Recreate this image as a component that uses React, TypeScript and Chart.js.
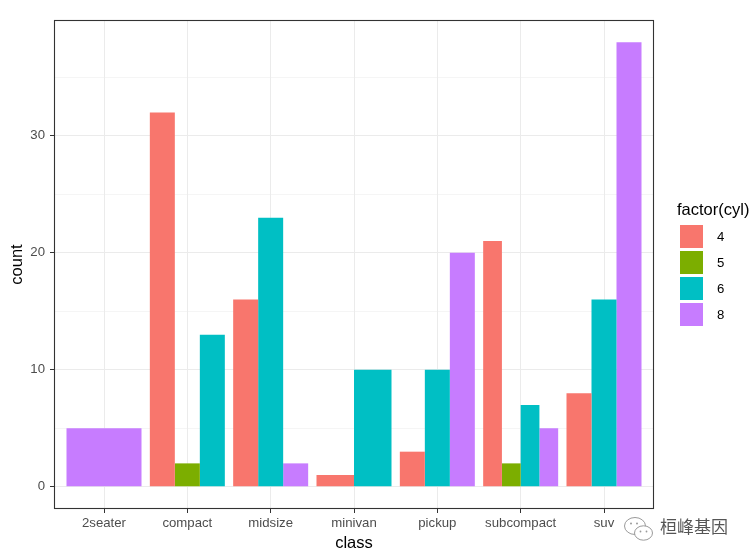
import React, { useEffect, useRef } from "react";
import { Chart, registerables } from "chart.js";

Chart.register(...registerables);

// ---- data (mpg: count of cars by class and cylinders) ----
const classes = ["2seater", "compact", "midsize", "minivan", "pickup", "subcompact", "suv"];
const cylLevels = ["4", "5", "6", "8"];
const cyl4Counts = [null, 32, 16, 1, 3, 21, 8];
const cyl5Counts = [null, 2, null, null, null, 2, null];
const cyl6Counts = [null, 13, 23, 10, 10, 7, 16];
const cyl8Counts = [5, null, 2, null, 20, 5, 38];
const cylColors = ["#F8766D", "#7CAE00", "#00BFC4", "#C77CFF"];
const yMajorTicks = [0, 10, 20, 30];
const yMinorTicks = [5, 15, 25, 35];
const yLimits = [-1.9, 39.9];
const xTitle = "class";
const yTitle = "count";
const legendTitle = "factor(cyl)";
const watermark = "桓峰基因";

const FONT = '"Liberation Sans", Arial, Helvetica, sans-serif';
const TICK_SIZE = 13.2;
const TITLE_SIZE = 16.5;

const seriesValues = [cyl4Counts, cyl5Counts, cyl6Counts, cyl8Counts];

const panelBorderPlugin = {
  id: "panelBorder",
  afterDraw(chart: any) {
    const { ctx, chartArea } = chart;
    ctx.save();
    ctx.strokeStyle = "#333333";
    ctx.lineWidth = 1.1;
    const l = Math.round(chartArea.left) + 0.5;
    const t = Math.round(chartArea.top) + 0.5;
    const r = Math.round(chartArea.right) - 0.5;
    const b = Math.round(chartArea.bottom) - 0.5;
    ctx.strokeRect(l, t, r - l, b - t);
    ctx.restore();
  },
};

const ggLegendPlugin = {
  id: "ggLegend",
  afterDraw(chart: any) {
    const { ctx, chartArea } = chart;
    const cy = (chartArea.top + chartArea.bottom) / 2;
    const x0 = chartArea.right + 23;
    ctx.save();
    ctx.textAlign = "left";
    ctx.textBaseline = "middle";
    ctx.fillStyle = "#000000";
    ctx.font = `${TITLE_SIZE}px ${FONT}`;
    ctx.fillText(legendTitle, x0, cy - 54.5);
    chart.data.datasets.forEach((ds: any, i: number) => {
      const top = cy - 39.5 + i * 26;
      ctx.fillStyle = ds.backgroundColor;
      ctx.fillRect(x0 + 3, top, 23, 23);
      ctx.fillStyle = "#000000";
      ctx.font = `${TICK_SIZE}px ${FONT}`;
      ctx.fillText(ds.label, x0 + 40, top + 12.5);
    });
    ctx.restore();
  },
};

export default function App() {
  const canvasRef = useRef<HTMLCanvasElement | null>(null);

  useEffect(() => {
    if (!canvasRef.current) return;
    const nCat = classes.length;
    const chart = new Chart(canvasRef.current, {
      type: "bar",
      data: {
        labels: classes,
        datasets: cylLevels.map((lvl, i) => ({
          label: lvl,
          data: seriesValues[i],
          backgroundColor: cylColors[i],
          borderWidth: 0,
          categoryPercentage: 0.9,
          barPercentage: 1.0,
          skipNull: true,
        })),
      },
      options: {
        animation: false,
        responsive: false,
        maintainAspectRatio: false,
        events: [],
        layout: { padding: { top: 20, right: 101, left: 0, bottom: 0 } },
        plugins: {
          legend: { display: false },
          tooltip: { enabled: false },
          title: { display: false },
        },
        scales: {
          x: {
            type: "category",
            offset: false,
            afterBuildTicks: (s: any) => {
              s._startValue = -0.6;
              s._valueRange = nCat - 1 + 1.2;
            },
            afterFit: (s: any) => {
              s.height = 51;
            },
            grid: {
              offset: false,
              color: "#EBEBEB",
              lineWidth: 1,
              drawTicks: true,
              tickLength: 4,
              tickWidth: 1,
              tickColor: "#333333",
            },
            border: { display: false },
            ticks: {
              color: "#4D4D4D",
              font: { family: FONT, size: TICK_SIZE },
              padding: 2.5,
              maxRotation: 0,
              autoSkip: false,
            },
            title: {
              display: true,
              text: xTitle,
              color: "#000000",
              font: { family: FONT, size: TITLE_SIZE },
              padding: 7,
            },
          },
          y: {
            type: "linear",
            min: yLimits[0],
            max: yLimits[1],
            afterBuildTicks: (s: any) => {
              s.ticks = [...yMajorTicks, ...yMinorTicks]
                .sort((a, b) => a - b)
                .map((v) => ({ value: v }));
            },
            afterFit: (s: any) => {
              s.width = 54;
            },
            grid: {
              color: "#EBEBEB",
              lineWidth: (c: any) => (yMajorTicks.includes(c.tick?.value) ? 1 : 0.5),
              drawTicks: true,
              tickLength: 4,
              tickWidth: 1,
              tickColor: (c: any) =>
                yMajorTicks.includes(c.tick?.value) ? "#333333" : "rgba(0,0,0,0)",
            },
            border: { display: false },
            ticks: {
              color: "#4D4D4D",
              font: { family: FONT, size: TICK_SIZE },
              padding: 5,
              autoSkip: false,
              callback: (v: any) => (yMajorTicks.includes(Number(v)) ? String(v) : ""),
            },
            title: {
              display: true,
              text: yTitle,
              color: "#000000",
              font: { family: FONT, size: TITLE_SIZE },
              padding: 7.5,
            },
          },
        },
      } as any,
      plugins: [panelBorderPlugin, ggLegendPlugin],
    });
    return () => chart.destroy();
  }, []);

  return (
    <div
      style={{
        position: "fixed",
        left: 0,
        top: 0,
        width: 755,
        height: 560,
        background: "#ffffff",
      }}
    >
      <canvas ref={canvasRef} width={755} height={560} style={{ display: "block" }} />
      <svg
        width={32}
        height={28}
        style={{ position: "absolute", left: 623, top: 515 }}
        viewBox="0 0 32 28"
      >
        <ellipse cx={12} cy={11} rx={10.5} ry={8.5} fill="#ffffff" stroke="#9a9a9a" strokeWidth={1} />
        <ellipse cx={20.5} cy={18} rx={9} ry={7.2} fill="#ffffff" stroke="#9a9a9a" strokeWidth={1} />
        <circle cx={8} cy={8.5} r={1} fill="#9a9a9a" />
        <circle cx={14} cy={8.5} r={1} fill="#9a9a9a" />
        <circle cx={17.5} cy={16.5} r={0.9} fill="#9a9a9a" />
        <circle cx={23.5} cy={16.5} r={0.9} fill="#9a9a9a" />
      </svg>
      <div
        style={{
          position: "absolute",
          left: 660,
          top: 515,
          fontFamily: '"Noto Sans CJK SC", sans-serif',
          fontSize: 17,
          lineHeight: "22px",
          color: "#555555",
          whiteSpace: "nowrap",
        }}
      >
        {watermark}
      </div>
    </div>
  );
}
